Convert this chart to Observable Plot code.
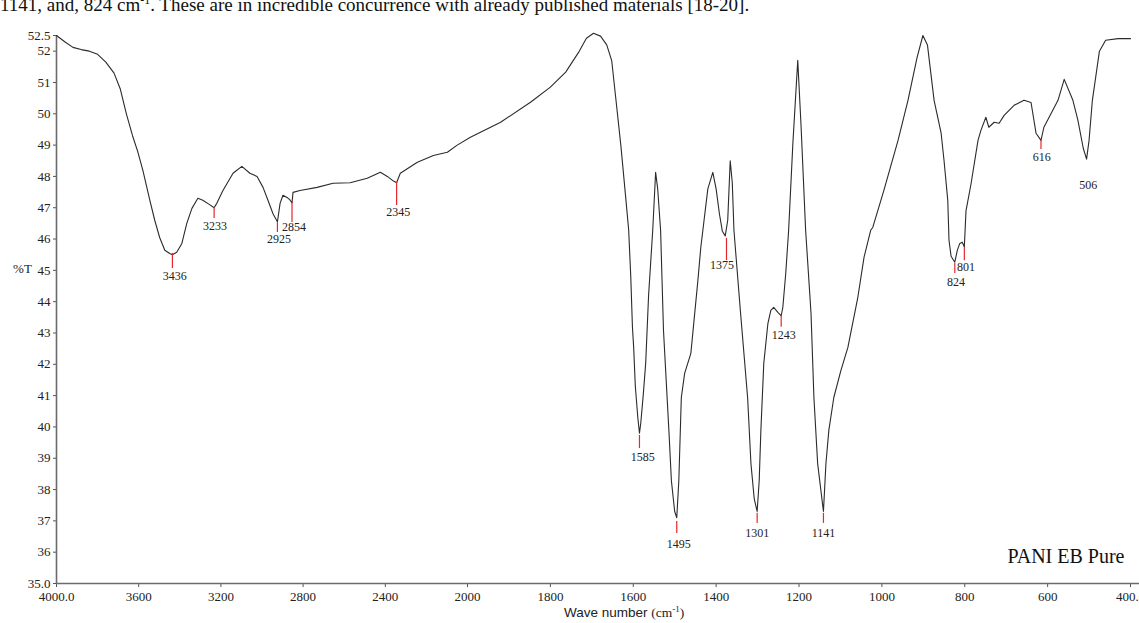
<!DOCTYPE html>
<html><head><meta charset="utf-8">
<script src="https://cdn.jsdelivr.net/npm/d3@7"></script>
<script src="https://cdn.jsdelivr.net/npm/@observablehq/plot@0.6"></script>
<style>
body{margin:0;background:#fff;width:1139px;height:623px;overflow:hidden;position:relative;}
#chart{position:absolute;left:0;top:0;}
#chart svg text{font-family:"Liberation Serif","Times New Roman",serif;}
#cap{position:absolute;left:0;top:-5px;font:19px/19px "Liberation Serif",serif;color:#111;white-space:nowrap;}
#cap sup{font-size:12px;line-height:0;}
#xt{position:absolute;left:564px;top:606px;font:13.5px/14px "Liberation Sans",Arial,sans-serif;color:#222;white-space:nowrap;}
#xt .s{font-family:"Liberation Serif",serif;}
#xt sup{font-size:9px;line-height:0;}
</style></head><body>
<div id="chart"></div>
<div id="cap">1141, and, 824 cm<sup>-1</sup>. These are in incredible concurrence with already published materials [18-20].</div>
<div id="xt">Wave number <span class="s">(cm<sup>-1</sup>)</span></div>
<script>
// Spectrum (wavenumber cm-1, %T)
const wavenumber = [4000,3960,3920,3880,3840,3800,3760,3720,3690,3660,3630,3605,3580,3546,3522,3498,3473,3449,3436,3415,3390,3366,3341,3312,3288,3255,3233,3220,3190,3141,3098,3059,3024,2995,2971,2946,2925,2912,2898,2878,2863,2854,2849,2815,2732,2654,2571,2488,2424,2390,2360,2345,2327,2244,2166,2098,2050,1993,1920,1848,1800,1763,1732,1713,1696,1679,1664,1652,1643,1630,1618,1611,1606,1602,1599,1595,1589,1585,1582,1576,1570,1563,1553,1546,1541,1534,1527,1514,1508,1500,1495,1490,1484,1476,1461,1444,1437,1432,1420,1408,1400,1392,1385,1378,1372,1366,1361,1357,1341,1324,1316,1308,1301,1296,1292,1285,1275,1268,1261,1251,1243,1239,1232,1225,1215,1203,1195,1184,1171,1164,1155,1141,1135,1128,1116,1099,1082,1058,1043,1027,1022,995,961,937,915,901,890,874,857,850,841,838,833,824,818,812,806,801,797,785,768,761,749,742,729,717,705,681,657,640,628,616,609,592,575,560,539,527,514,506,500,492,475,460,430,400];
const transmittance = [52.5,52.3,52.12,52.05,52.0,51.9,51.65,51.3,50.8,50.0,49.3,48.8,48.2,47.24,46.6,46.05,45.64,45.54,45.5,45.58,45.86,46.5,46.98,47.3,47.24,47.1,47.0,47.14,47.55,48.1,48.32,48.1,48.0,47.65,47.24,46.8,46.55,47.14,47.4,47.33,47.24,47.15,47.49,47.55,47.65,47.78,47.8,47.94,48.13,48.0,47.85,47.8,48.1,48.45,48.67,48.77,49.0,49.25,49.73,50.37,50.85,51.33,51.96,52.41,52.57,52.48,52.2,51.7,50.6,49.0,47.3,46.28,44.8,43.2,42.54,41.3,40.3,39.8,40.1,41.0,42.03,44.2,46.28,48.13,47.6,46.28,43.08,39.89,38.29,37.3,37.1,38.29,40.94,41.71,42.35,44.68,45.73,46.28,47.6,48.13,47.6,46.8,46.25,46.1,46.6,48.5,47.8,46.28,43.63,40.94,38.83,37.7,37.3,38.3,39.89,42.03,43.31,43.72,43.82,43.66,43.55,43.82,44.9,46.28,49.0,51.71,49.6,46.28,43.63,40.94,38.83,37.3,38.83,39.89,40.94,41.8,42.54,44.14,45.42,46.28,46.37,47.56,49.15,50.43,51.8,52.5,52.2,50.43,49.38,48.51,47.24,45.96,45.45,45.26,45.64,45.86,45.9,45.75,46.9,47.75,49.15,49.47,49.89,49.57,49.73,49.7,49.95,50.27,50.43,50.36,49.38,49.15,49.57,50.0,50.43,51.1,50.43,49.8,48.9,48.55,49.15,50.43,52.0,52.35,52.4,52.4];

// Peak annotations
const peakWn      = [3436,3233,2925,2854,2345,1585,1495,1375,1301,1243,1141,824,801,616,506];
const peakTickTop = [45.54,47.01,46.53,47.17,47.81,39.73,36.98,46.02,37.24,43.56,37.24,45.22,45.73,49.15,null];
const peakTickBot = [45.06,46.66,46.21,46.53,47.07,39.31,36.60,45.31,36.92,43.18,36.92,44.90,45.31,48.86,null];
const peakLabelWn = [3424,3229,2917,2844,2337,1577,1490,1386,1301,1237,1141,821,797,614,502];
const peakLabelT  = [44.80,46.40,45.99,46.37,46.85,39.02,36.25,45.16,36.60,42.92,36.60,44.61,45.09,48.60,47.71];

// Axis ticks
const xTicks = [4000,3600,3200,2800,2400,2000,1800,1600,1400,1200,1000,800,600,400];
const xTickLabels = ["4000.0","3600","3200","2800","2400","2000","1800","1600","1400","1200","1000","800","600","400.0"];
const yTicks = [35,36,37,38,39,40,41,42,43,44,45,46,47,48,49,50,51,52,52.5];
const yTickLabels = ["35.0","36","37","38","39","40","41","42","43","44","45","46","47","48","49","50","51","52","52.5"];
const yTitle = "%T";
const sampleName = "PANI EB Pure";

const serif = "'Liberation Serif', 'Times New Roman', serif";
const spectrum = wavenumber.map((w, i) => ({wn: w, t: transmittance[i]}));
const peaks = peakWn.map((w, i) => ({wn: w, top: peakTickTop[i], bot: peakTickBot[i], lx: peakLabelWn[i], ly: peakLabelT[i], label: String(w)}));
const xLab = new Map(xTicks.map((t, i) => [t, xTickLabels[i]]));
const yLab = new Map(yTicks.map((t, i) => [t, yTickLabels[i]]));

const chart = Plot.plot({
  width: 1139,
  height: 623,
  marginLeft: 56,
  marginRight: 0,
  marginTop: 35,
  marginBottom: 40,
  style: {fontFamily: serif, color: "#222", background: "transparent", overflow: "visible"},
  x: {type: "linear", domain: [4000, 2000, 400], range: [56, 467, 1130]},
  y: {type: "linear", domain: [35, 52.5], range: [583, 35]},
  marks: [
    Plot.axisY(yTicks, {anchor: "left", tickSize: 3, tickPadding: 3, tickFormat: d => yLab.get(d), fontSize: 13, fontFamily: serif, stroke: "#555", label: null}),
    Plot.axisX(xTicks, {anchor: "bottom", tickSize: 4, tickPadding: 4, tickFormat: d => xLab.get(d), fontSize: 13, fontFamily: serif, stroke: "#555", label: null}),
    Plot.ruleY([35], {stroke: "#6b6b6b", strokeWidth: 1.6}),
    Plot.ruleX([4000], {stroke: "#6b6b6b", strokeWidth: 1.6}),
    Plot.line(spectrum, {x: "wn", y: "t", stroke: "#2b2b2b", strokeWidth: 1.1}),
    Plot.ruleX(peaks.filter(d => d.top != null), {x: "wn", y1: "top", y2: "bot", stroke: "#e8262b", strokeWidth: 1.2}),
    Plot.text(peaks, {x: "lx", y: "ly", text: "label", fontSize: 12, fontFamily: serif, fill: "#222"}),
    Plot.text([yTitle], {frameAnchor: "left", dx: -34, dy: -41, fontSize: 13, fontFamily: serif, textAnchor: "middle", fill: "#222"}),
    Plot.text([sampleName], {frameAnchor: "bottom-right", textAnchor: "end", lineAnchor: "bottom", dx: -15, dy: -21, fontSize: 20, fontFamily: serif, fill: "#111"})
  ]
});
document.getElementById("chart").appendChild(chart);
</script>
</body></html>
